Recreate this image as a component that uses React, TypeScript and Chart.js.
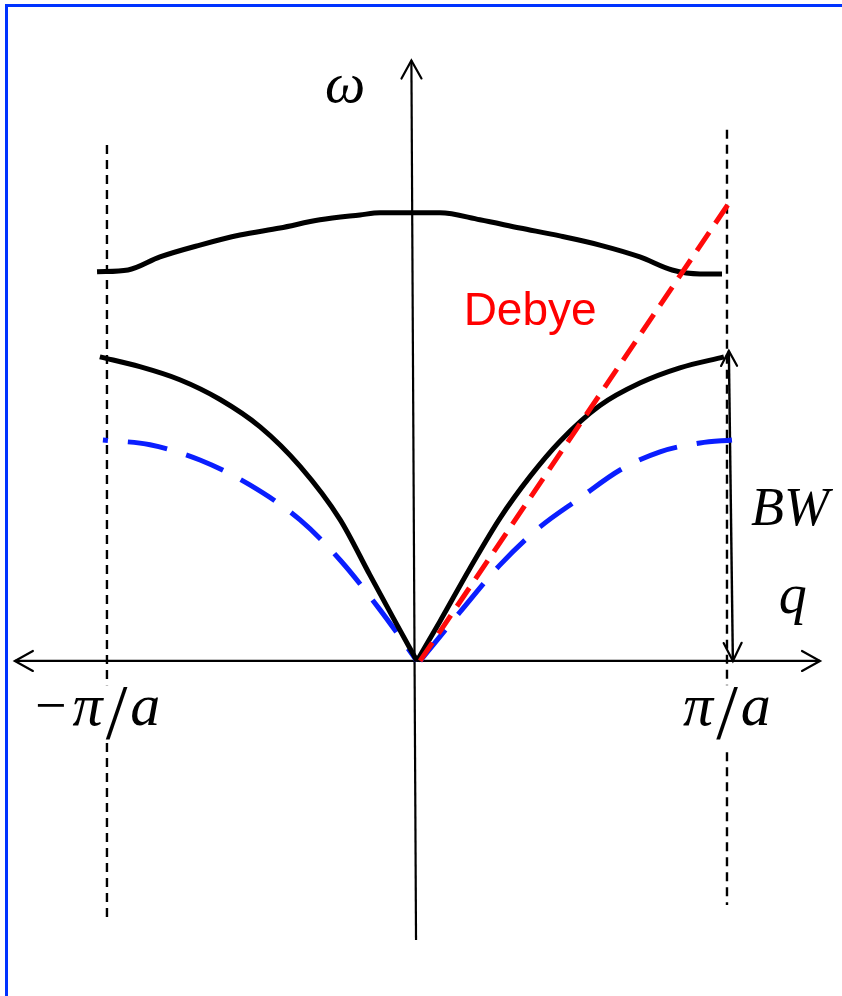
import { useEffect, useRef } from 'react';
import { Chart, registerables } from 'chart.js';

Chart.register(...registerables);

// Wave vector q in units of pi/a, frequency omega normalised to the acoustic zone-boundary value.
const Q_OPTICAL = [-1.032, -0.932, -0.829, -0.7, -0.571, -0.442, -0.313, -0.184, -0.119, 0.074, 0.203, 0.332, 0.461, 0.59, 0.719, 0.823, 0.913, 0.984];
const W_OPTICAL = [1.28, 1.286, 1.329, 1.368, 1.401, 1.424, 1.451, 1.467, 1.474, 1.474, 1.451, 1.424, 1.398, 1.368, 1.329, 1.286, 1.273, 1.273];

const Q_ACOUSTIC_L = [-1.023, -0.894, -0.765, -0.635, -0.506, -0.377, -0.248, -0.152, -0.071, 0];
const W_ACOUSTIC_L = [1.0, 0.968, 0.925, 0.86, 0.77, 0.64, 0.465, 0.283, 0.131, 0];
const Q_ACOUSTIC_R = [0, 0.074, 0.171, 0.268, 0.365, 0.461, 0.59, 0.719, 0.848, 0.99];
const W_ACOUSTIC_R = [0, 0.13, 0.305, 0.47, 0.607, 0.722, 0.84, 0.914, 0.964, 1.0];

const Q_MODEL_L = [-1.013, -0.861, -0.7, -0.539, -0.377, -0.248, -0.119, 0];
const W_MODEL_L = [0.727, 0.711, 0.661, 0.579, 0.464, 0.332, 0.168, 0];
const Q_MODEL_R = [0.01, 0.139, 0.268, 0.397, 0.526, 0.655, 0.784, 0.913, 1.016];
const W_MODEL_R = [0, 0.161, 0.316, 0.441, 0.536, 0.628, 0.688, 0.717, 0.727];

const Q_DEBYE = [0.01, 1.013];
const W_DEBYE = [0, 1.516];

// Axes
const Q_AXIS = [-1.297, 1.3];
const W_AXIS_Q = [-0.003, -0.018];
const W_AXIS = [-0.918, 1.975];

// Brillouin zone boundaries (broken where the tick labels sit)
const Q_ZONE = [-1, 1];
const W_ZONE_L = [1.697, -0.08, -0.27, -0.852];
const W_ZONE_R = [1.747, -0.08, -0.3, -0.803];

// Band-width marker
const Q_BW = [1.019, 1.006];
const W_BW = [0, 1.02];

const SERIF_I = '"Liberation Serif", "Times New Roman", serif';
const LABELS = [
  { q: -0.232, w: 1.839, color: '#000000', parts: [{ t: 'ω', font: `italic 57px ${SERIF_I}` }] },
  { q: 0.365, w: 1.105, color: '#ff0000', parts: [{ t: 'Debye', font: '46px "Liberation Sans", Arial, sans-serif' }] },
  { q: 1.203, w: 0.447, color: '#000000', parts: [{ t: 'BW', font: `italic 54px ${SERIF_I}` }] },
  { q: 1.212, w: 0.158, color: '#000000', parts: [{ t: 'q', font: `italic 56px ${SERIF_I}` }] },
  {
    q: 1.0,
    w: -0.211,
    color: '#000000',
    parts: [
      { t: 'π', font: `italic 60px ${SERIF_I}`, gap: 3 },
      { t: '/', font: `78px ${SERIF_I}`, dy: 13, gap: 3 },
      { t: 'a', font: `italic 60px ${SERIF_I}` },
    ],
  },
  {
    q: -1.03,
    w: -0.211,
    color: '#000000',
    parts: [
      { t: '−', font: `56px ${SERIF_I}`, dy: -1, gap: 6 },
      { t: 'π', font: `italic 60px ${SERIF_I}`, gap: 3 },
      { t: '/', font: `78px ${SERIF_I}`, dy: 13, gap: 3 },
      { t: 'a', font: `italic 60px ${SERIF_I}` },
    ],
  },
];

const pts = (qs: number[], ws: number[]) => qs.map((q, i) => ({ x: q, y: ws[i] }));

const zonePts = (q: number, ws: number[]) => [
  { x: q, y: ws[0] },
  { x: q, y: ws[1] },
  { x: q, y: null },
  { x: q, y: ws[2] },
  { x: q, y: ws[3] },
];

type XY = [number, number];

function arrowHead(ctx: CanvasRenderingContext2D, from: XY, tip: XY, len: number, half: number) {
  const dx = tip[0] - from[0];
  const dy = tip[1] - from[1];
  const d = Math.hypot(dx, dy) || 1;
  const ux = dx / d;
  const uy = dy / d;
  const bx = tip[0] - ux * len;
  const by = tip[1] - uy * len;
  ctx.beginPath();
  ctx.moveTo(bx - uy * half, by + ux * half);
  ctx.lineTo(tip[0], tip[1]);
  ctx.lineTo(bx + uy * half, by - ux * half);
  ctx.stroke();
}

const decorPlugin = {
  id: 'dispersionDecor',
  afterDatasetsDraw(chart: any) {
    const { ctx, scales } = chart;
    const px = (q: number, w: number): XY => [scales.x.getPixelForValue(q), scales.y.getPixelForValue(w)];
    ctx.save();
    ctx.strokeStyle = '#000000';
    ctx.lineCap = 'round';
    ctx.lineJoin = 'miter';
    ctx.setLineDash([]);

    ctx.lineWidth = 2.2;
    // q axis: arrows at both ends
    arrowHead(ctx, px(Q_AXIS[1], 0), px(Q_AXIS[0], 0), 18, 10);
    arrowHead(ctx, px(Q_AXIS[0], 0), px(Q_AXIS[1], 0), 18, 10);
    // omega axis: arrow at the top
    arrowHead(ctx, px(W_AXIS_Q[0], W_AXIS[0]), px(W_AXIS_Q[1], W_AXIS[1]), 18, 10);
    // band-width marker: arrows at both ends
    arrowHead(ctx, px(Q_BW[0], W_BW[0]), px(Q_BW[1], W_BW[1]), 15, 8);
    arrowHead(ctx, px(Q_BW[1], W_BW[1]), px(Q_BW[0], W_BW[0]), 18, 9);

    ctx.textAlign = 'left';
    ctx.textBaseline = 'alphabetic';
    for (const l of LABELS) {
      const [cx, cy] = px(l.q, l.w);
      let total = 0;
      const widths = l.parts.map((p: any) => {
        ctx.font = p.font;
        const wdt = ctx.measureText(p.t).width;
        total += wdt + (p.gap || 0);
        return wdt;
      });
      let x = cx - total / 2;
      ctx.fillStyle = l.color;
      l.parts.forEach((p: any, i: number) => {
        ctx.font = p.font;
        ctx.fillText(p.t, x, cy + (p.dy || 0));
        x += widths[i] + (p.gap || 0);
      });
    }
    ctx.restore();
  },
};

export default function App() {
  const canvasRef = useRef<HTMLCanvasElement | null>(null);

  useEffect(() => {
    const canvas = canvasRef.current;
    if (!canvas) return;

    const curve = (data: any[], color: string, width: number, dash: number[], order: number, extra: any = {}) => ({
      data,
      borderColor: color,
      backgroundColor: color,
      borderWidth: width,
      borderDash: dash,
      pointRadius: 0,
      showLine: true,
      fill: false,
      spanGaps: false,
      order,
      ...extra,
    });

    const smooth = { cubicInterpolationMode: 'monotone' };

    const chart = new Chart(canvas, {
      type: 'scatter',
      data: {
        datasets: [
          curve(pts(Q_AXIS, [0, 0]), '#000000', 2.2, [], 5),
          curve(pts(W_AXIS_Q, W_AXIS), '#000000', 2.2, [], 5),
          curve(zonePts(Q_ZONE[0], W_ZONE_L), '#000000', 2.4, [9, 6], 6),
          curve(zonePts(Q_ZONE[1], W_ZONE_R), '#000000', 2.4, [9, 6], 6),
          curve(pts(Q_BW, W_BW), '#000000', 2.4, [], 4),
          curve(pts(Q_MODEL_L, W_MODEL_L), '#0a1eff', 5, [40, 20], 3, { ...smooth, borderDashOffset: 35 }),
          curve(pts(Q_MODEL_R, W_MODEL_R), '#0a1eff', 5, [40, 20], 3, { ...smooth, borderDashOffset: 0 }),
          curve(pts(Q_OPTICAL, W_OPTICAL), '#000000', 5, [], 2, smooth),
          curve(pts(Q_ACOUSTIC_L, W_ACOUSTIC_L), '#000000', 5, [], 2, smooth),
          curve(pts(Q_ACOUSTIC_R, W_ACOUSTIC_R), '#000000', 5, [], 2, smooth),
          curve(pts(Q_DEBYE, W_DEBYE), '#ff0a0a', 5, [22, 11], 1),
        ],
      },
      options: {
        animation: false,
        responsive: false,
        devicePixelRatio: 1,
        layout: { padding: 0 },
        events: [],
        plugins: { legend: { display: false }, tooltip: { enabled: false } },
        scales: {
          x: { type: 'linear', min: -1.345, max: 1.371, display: false },
          y: { type: 'linear', min: -1.102, max: 2.174, display: false },
        },
      },
      plugins: [decorPlugin],
    } as any);

    return () => chart.destroy();
  }, []);

  return (
    <div style={{ position: 'absolute', left: 0, top: 0, width: 842, height: 996, background: '#ffffff' }}>
      <div
        style={{
          position: 'absolute',
          left: 5,
          top: 4,
          right: 0,
          bottom: 0,
          borderLeft: '3px solid #0033ff',
          borderTop: '3px solid #0033ff',
        }}
      />
      <canvas ref={canvasRef} width={842} height={996} style={{ position: 'absolute', left: 0, top: 0, display: 'block' }} />
    </div>
  );
}
